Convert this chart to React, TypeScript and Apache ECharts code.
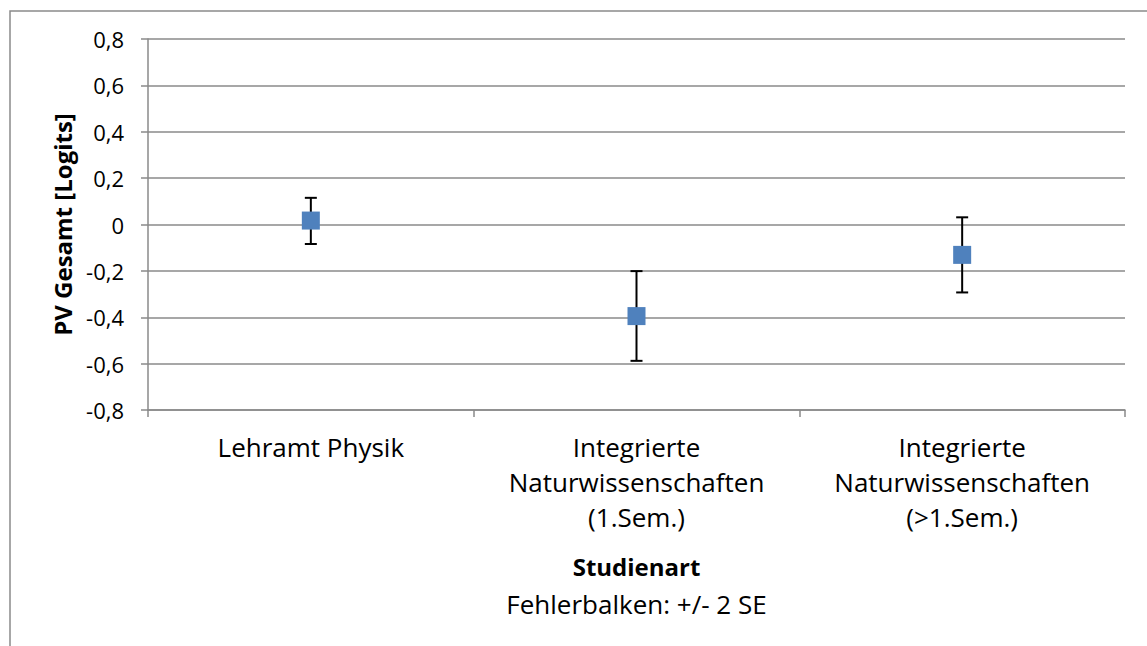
import React, { useEffect, useRef } from "react";
import * as echarts from "echarts";

const categories = [
  "Lehramt Physik",
  "Integrierte\nNaturwissenschaften\n(1.Sem.)",
  "Integrierte\nNaturwissenschaften\n(>1.Sem.)",
];
const means = [0.017, -0.395, -0.131];
const lowerBounds = [-0.084, -0.588, -0.293];
const upperBounds = [0.115, -0.201, 0.031];
const yTickLabels = ["-0,8", "-0,6", "-0,4", "-0,2", "0", "0,2", "0,4", "0,6", "0,8"];
const yMin = -0.8;
const yMax = 0.8;
const yStep = 0.2;
const yAxisTitle = "PV Gesamt [Logits]";
const xAxisTitle = "Studienart";
const xAxisNote = "Fehlerbalken: +/- 2 SE";

const FONT = "'Open Sans', 'Noto Sans', sans-serif";
const GRAY = "#8a8a8a";

export default function App() {
  const ref = useRef<HTMLDivElement>(null);
  useEffect(() => {
    if (!ref.current) return;
    const chart = echarts.init(ref.current, null, { renderer: "svg" });
    chart.setOption({
      animation: false,
      backgroundColor: "#ffffff",
      textStyle: { fontFamily: FONT },
      graphic: [
        {
          type: "rect",
          silent: true,
          z: -10,
          shape: { x: 10, y: 11, width: 1300, height: 800 },
          style: { fill: "none", stroke: GRAY, lineWidth: 1.5 },
        },
      ],
      grid: { left: 148, right: 22, top: 39, bottom: 236, containLabel: false },
      xAxis: {
        type: "category",
        data: categories,
        boundaryGap: true,
        axisLine: { show: true, onZero: false, lineStyle: { color: GRAY, width: 1.5 } },
        axisTick: { show: true, length: 7, lineStyle: { color: GRAY, width: 1.5 } },
        axisLabel: {
          interval: 0,
          margin: 19,
          fontSize: 26,
          lineHeight: 35,
          color: "#000",
          fontFamily: FONT,
        },
        splitLine: { show: false },
        name: `{b|${xAxisTitle}}\n{n|${xAxisNote}}`,
        nameLocation: "middle",
        nameGap: 137,
        nameTextStyle: {
          color: "#000",
          fontFamily: FONT,
          rich: {
            b: { fontWeight: "bold", fontSize: 24, lineHeight: 38, color: "#000", fontFamily: FONT },
            n: { fontSize: 26, lineHeight: 38, color: "#000", fontFamily: FONT },
          },
        },
      },
      yAxis: {
        type: "value",
        min: yMin,
        max: yMax,
        interval: yStep,
        axisLine: { show: true, lineStyle: { color: GRAY, width: 1.5 } },
        axisTick: { show: true, length: 7, lineStyle: { color: GRAY, width: 1.5 } },
        splitLine: { show: true, lineStyle: { color: GRAY, width: 1.5 } },
        axisLabel: {
          margin: 24,
          fontSize: 22,
          color: "#000",
          fontFamily: FONT,
          formatter: (v: number) => yTickLabels[Math.round((v - yMin) / yStep)] ?? "",
        },
        name: yAxisTitle,
        nameLocation: "middle",
        nameGap: 74,
        nameRotate: 90,
        nameTextStyle: { color: "#000", fontWeight: "bold", fontSize: 24, fontFamily: FONT },
      },
      series: [
        {
          type: "custom",
          z: 2,
          encode: { x: 0, y: [1, 2] },
          data: categories.map((_, i) => [i, lowerBounds[i], upperBounds[i]]),
          renderItem: (params: any, api: any) => {
            const xi = api.value(0);
            const lo = api.coord([xi, api.value(1)]);
            const hi = api.coord([xi, api.value(2)]);
            const half = 6;
            const st = { stroke: "#000", lineWidth: 2 };
            return {
              type: "group",
              children: [
                { type: "line", shape: { x1: lo[0], y1: lo[1], x2: hi[0], y2: hi[1] }, style: st },
                { type: "line", shape: { x1: lo[0] - half, y1: lo[1], x2: lo[0] + half, y2: lo[1] }, style: st },
                { type: "line", shape: { x1: hi[0] - half, y1: hi[1], x2: hi[0] + half, y2: hi[1] }, style: st },
              ],
            };
          },
        },
        {
          type: "scatter",
          z: 3,
          symbol: "rect",
          symbolSize: 18,
          itemStyle: { color: "#4f81bd", opacity: 1 },
          data: means.map((m, i) => [i, m]),
        },
      ],
    });
    return () => chart.dispose();
  }, []);
  return (
    <div
      ref={ref}
      style={{ position: "absolute", left: 0, top: 0, width: 1147, height: 646, background: "#fff" }}
    />
  );
}
